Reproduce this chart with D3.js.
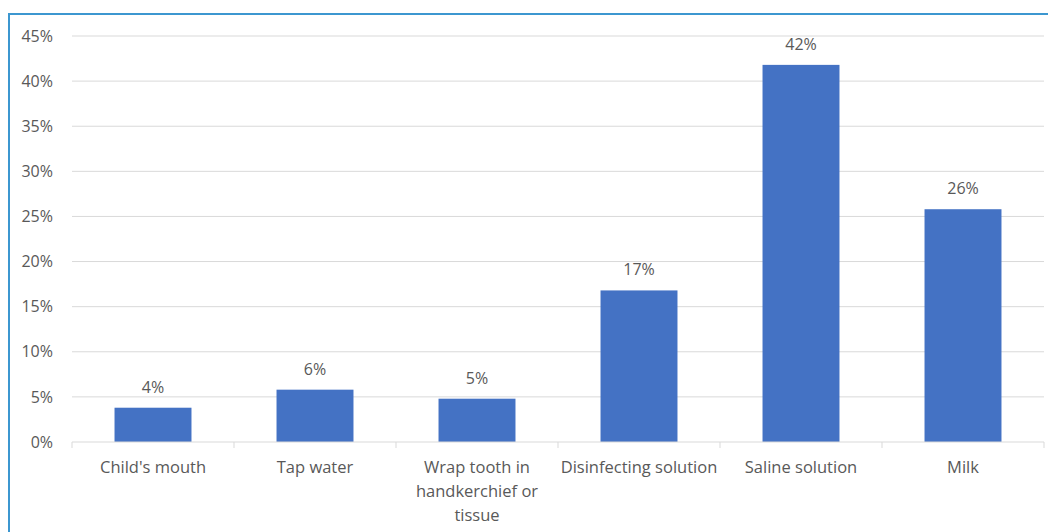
<!DOCTYPE html>
<html>
<head>
<meta charset="utf-8">
<script src="https://cdn.jsdelivr.net/npm/d3@7"></script>
<style>
  body { margin: 0; background: #fff; }
  svg { display: block; }
  text { font-family: "Open Sans", sans-serif; }
</style>
</head>
<body>
<div id="chart"></div>
<script>
// chart data
var categories = ["Child's mouth", "Tap water", "Wrap tooth in handkerchief or tissue", "Disinfecting solution", "Saline solution", "Milk"];
var values = [3.8, 5.8, 4.8, 16.8, 41.8, 25.8];
var valueLabels = ["4%", "6%", "5%", "17%", "42%", "26%"];
var yTicks = [0, 5, 10, 15, 20, 25, 30, 35, 40, 45];

var svgWidth = 1048;
var svgHeight = 532;

var chartMargins = { top: 36, right: 4, bottom: 90, left: 72 };
var chartWidth = svgWidth - chartMargins.left - chartMargins.right;
var chartHeight = svgHeight - chartMargins.top - chartMargins.bottom;

var svg = d3.select('#chart')
    .append('svg')
    .attr('width', svgWidth)
    .attr('height', svgHeight);

// outer frame (only left & top visible)
svg.append('rect')
    .attr('x', 9)
    .attr('y', 14)
    .attr('width', svgWidth + 20)
    .attr('height', svgHeight + 20)
    .attr('fill', 'none')
    .attr('stroke', '#3c97d0')
    .attr('stroke-width', 2);

var chartGroup = svg.append('g')
    .attr('transform', `translate(${chartMargins.left},${chartMargins.top})`);

var xScale = d3.scaleBand()
    .domain(categories)
    .range([0, chartWidth])
    .paddingInner(0.525)
    .paddingOuter(0.2625);

var yScale = d3.scaleLinear()
    .domain([0, 45])
    .range([chartHeight, 0]);

// gridlines
chartGroup.append('g')
    .selectAll('line')
    .data(yTicks.filter(d => d > 0))
    .enter()
    .append('line')
    .attr('x1', 0)
    .attr('x2', chartWidth)
    .attr('y1', d => yScale(d))
    .attr('y2', d => yScale(d))
    .attr('stroke', '#d9d9d9')
    .attr('stroke-width', 1);

// y axis labels
var leftAxis = d3.axisLeft(yScale)
    .tickValues(yTicks)
    .tickFormat(d => d + '%')
    .tickSize(0)
    .tickPadding(19);

var yAxis = chartGroup.append('g').call(leftAxis);
yAxis.select('.domain').remove();
yAxis.selectAll('text')
    .attr('fill', '#595959')
    .style('font-size', '16px');

// bars
chartGroup.selectAll('.bar')
    .data(values)
    .enter()
    .append('rect')
    .attr('class', 'bar')
    .attr('x', (d, i) => xScale(categories[i]))
    .attr('width', xScale.bandwidth())
    .attr('y', d => yScale(d))
    .attr('height', d => chartHeight - yScale(d))
    .attr('fill', '#4472c4');

// value labels
chartGroup.selectAll('.vlabel')
    .data(values)
    .enter()
    .append('text')
    .attr('class', 'vlabel')
    .attr('x', (d, i) => xScale(categories[i]) + xScale.bandwidth() / 2)
    .attr('y', d => yScale(d) - 15)
    .attr('text-anchor', 'middle')
    .attr('fill', '#595959')
    .style('font-size', '16px')
    .text((d, i) => valueLabels[i]);

// x axis baseline and ticks
var step = chartWidth / categories.length;
var xAxisG = chartGroup.append('g')
    .attr('transform', `translate(0,${chartHeight})`);

xAxisG.append('line')
    .attr('x1', 0).attr('x2', chartWidth)
    .attr('y1', 0).attr('y2', 0)
    .attr('stroke', '#d9d9d9');

xAxisG.selectAll('.tick')
    .data(d3.range(categories.length + 1))
    .enter()
    .append('line')
    .attr('x1', i => i * step)
    .attr('x2', i => i * step)
    .attr('y1', 0)
    .attr('y2', 6)
    .attr('stroke', '#d9d9d9');

// category labels, wrapped
function wrapLines(txt, maxW, el) {
    var words = txt.split(' ');
    var lines = [];
    var cur = '';
    words.forEach(w => {
        var test = cur ? cur + ' ' + w : w;
        el.text(test);
        if (el.node().getComputedTextLength() > maxW && cur) {
            lines.push(cur);
            cur = w;
        } else {
            cur = test;
        }
    });
    lines.push(cur);
    el.text(null);
    return lines;
}

categories.forEach((c, i) => {
    var t = xAxisG.append('text')
        .attr('x', xScale(c) + xScale.bandwidth() / 2)
        .attr('y', 31)
        .attr('text-anchor', 'middle')
        .attr('fill', '#595959')
        .style('font-size', '16.5px');
    var lines = wrapLines(c, 162, t);
    lines.forEach((l, j) => {
        t.append('tspan')
            .attr('x', xScale(c) + xScale.bandwidth() / 2)
            .attr('dy', j === 0 ? 0 : 24)
            .text(l);
    });
});
</script>
</body>
</html>
